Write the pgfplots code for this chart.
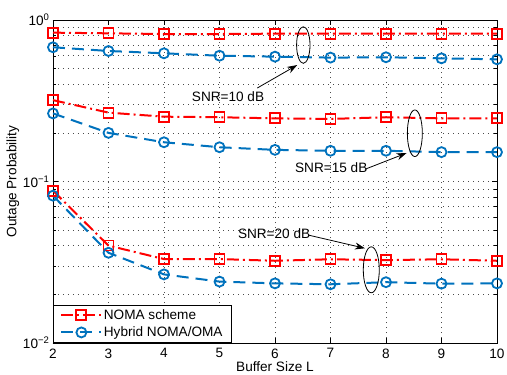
\documentclass[border=0pt]{standalone}
\usepackage{fontspec}
\setmainfont{Liberation Sans}
\usepackage{pgfplots}
\pgfplotsset{compat=1.18}
\usetikzlibrary{arrows.meta}
\definecolor{mblue}{RGB}{0,114,189}
\definecolor{mred}{RGB}{255,0,0}
\newcommand{\ff}{\fontsize{13.6bp}{16bp}\selectfont}
\begin{document}
\begin{tikzpicture}
\useasboundingbox (-53bp,-32bp) rectangle (454bp,343bp);
\begin{axis}[
  at={(0,0)}, anchor=south west,
  scale only axis, width=444bp, height=323bp,
  xmin=2, xmax=10, ymode=log, ymin=0.01, ymax=1,
  xtick={2,...,10},
  ytick={0.01,0.1,1},
  yticklabels={10\textsuperscript{−2},10\textsuperscript{−1},10\textsuperscript{0}},
  /pgf/number format/assume math mode=true,
  grid=both,
  major grid style={black!70, line width=0.7bp, dash pattern=on 0.8bp off 4.2bp},
  minor grid style={black!70, line width=0.7bp, dash pattern=on 0.8bp off 4.2bp},
  tick align=inside,
  major tick length=5bp, minor tick length=3bp,
  axis line style={line width=0.8bp},
  tick style={black, line width=0.6bp},
  tick label style={font=\ff},
  xticklabel style={yshift=-2bp},
  label style={font=\ff},
  xlabel={Buffer Size L}, ylabel={Outage Probability},
  xlabel style={yshift=3bp},
  ylabel style={yshift=-3bp},
  legend style={at={(0,0)}, anchor=south west, draw=black, line width=0.8bp, font=\ff, cells={anchor=west}, inner xsep=7bp, inner ysep=3bp, row sep=3bp, nodes={inner sep=1.5bp}},
  legend image code/.code={\draw[mark repeat=2,mark phase=2,#1] plot coordinates {(0bp,0bp) (20bp,0bp) (40bp,0bp)};},
  legend cell align=left,
]
\addplot[mred, line width=2bp, dash pattern=on 12bp off 4bp on 2bp off 4bp, mark=square, mark size=5bp, mark options={solid, line width=1.8bp, fill=none}]
  coordinates {(2,0.835) (3,0.827) (4,0.819) (5,0.819) (6,0.823) (7,0.823) (8,0.823) (9,0.823) (10,0.823)};
\addlegendentry{NOMA scheme}
\addplot[mblue, line width=2bp, dash pattern=on 12bp off 7bp, mark=o, mark size=5bp, mark options={solid, line width=1.8bp, fill=none}]
  coordinates {(2,0.678) (3,0.643) (4,0.622) (5,0.601) (6,0.593) (7,0.585) (8,0.588) (9,0.579) (10,0.571)};
\addlegendentry{Hybrid NOMA/OMA}
\addplot[mred, line width=2bp, dash pattern=on 12bp off 4bp on 2bp off 4bp, mark=square, mark size=5bp, mark options={solid, line width=1.8bp, fill=none}, forget plot]
  coordinates {(2,0.319) (3,0.267) (4,0.252) (5,0.250) (6,0.246) (7,0.244) (8,0.250) (9,0.246) (10,0.246)};
\addplot[mblue, line width=2bp, dash pattern=on 12bp off 7bp, mark=o, mark size=5bp, mark options={solid, line width=1.8bp, fill=none}, forget plot]
  coordinates {(2,0.264) (3,0.200) (4,0.175) (5,0.163) (6,0.157) (7,0.155) (8,0.155) (9,0.152) (10,0.152)};
\addplot[mred, line width=2bp, dash pattern=on 12bp off 4bp on 2bp off 4bp, mark=square, mark size=5bp, mark options={solid, line width=1.8bp, fill=none}, forget plot]
  coordinates {(2,0.0877) (3,0.0401) (4,0.0331) (5,0.0331) (6,0.0323) (7,0.0330) (8,0.0326) (9,0.0330) (10,0.0323)};
\addplot[mblue, line width=2bp, dash pattern=on 12bp off 7bp, mark=o, mark size=5bp, mark options={solid, line width=1.8bp, fill=none}, forget plot]
  coordinates {(2,0.0817) (3,0.0362) (4,0.0266) (5,0.0240) (6,0.0234) (7,0.0231) (8,0.0238) (9,0.0233) (10,0.0234)};
% annotations
\draw[line width=0.8bp] (axis cs:6.51,0.70) ellipse [x radius=6.7bp, y radius=18.3bp];
\draw[line width=0.8bp] (axis cs:8.52,0.199) ellipse [x radius=7.5bp, y radius=23.3bp];
\draw[line width=0.8bp] (axis cs:7.735,0.0284) ellipse [x radius=8bp, y radius=23bp];
\node[anchor=west, font=\ff, inner sep=0pt] at (axis cs:4.50,0.334) {SNR=10 dB};
\node[anchor=west, font=\ff, inner sep=0pt] at (axis cs:6.36,0.121) {SNR=15 dB};
\node[anchor=west, font=\ff, inner sep=0pt] at (axis cs:5.33,0.0478) {SNR=20 dB};
\draw[line width=0.8bp, -{Stealth[length=10bp,width=7bp]}] (axis cs:5.68,0.379) -- (axis cs:6.40,0.526);
\draw[line width=0.8bp, -{Stealth[length=10bp,width=7bp]}] (axis cs:7.62,0.119) -- (axis cs:8.37,0.150);
\draw[line width=0.8bp, -{Stealth[length=10bp,width=7bp]}] (axis cs:6.60,0.0466) -- (axis cs:7.62,0.0386);
\end{axis}
\end{tikzpicture}
\end{document}
